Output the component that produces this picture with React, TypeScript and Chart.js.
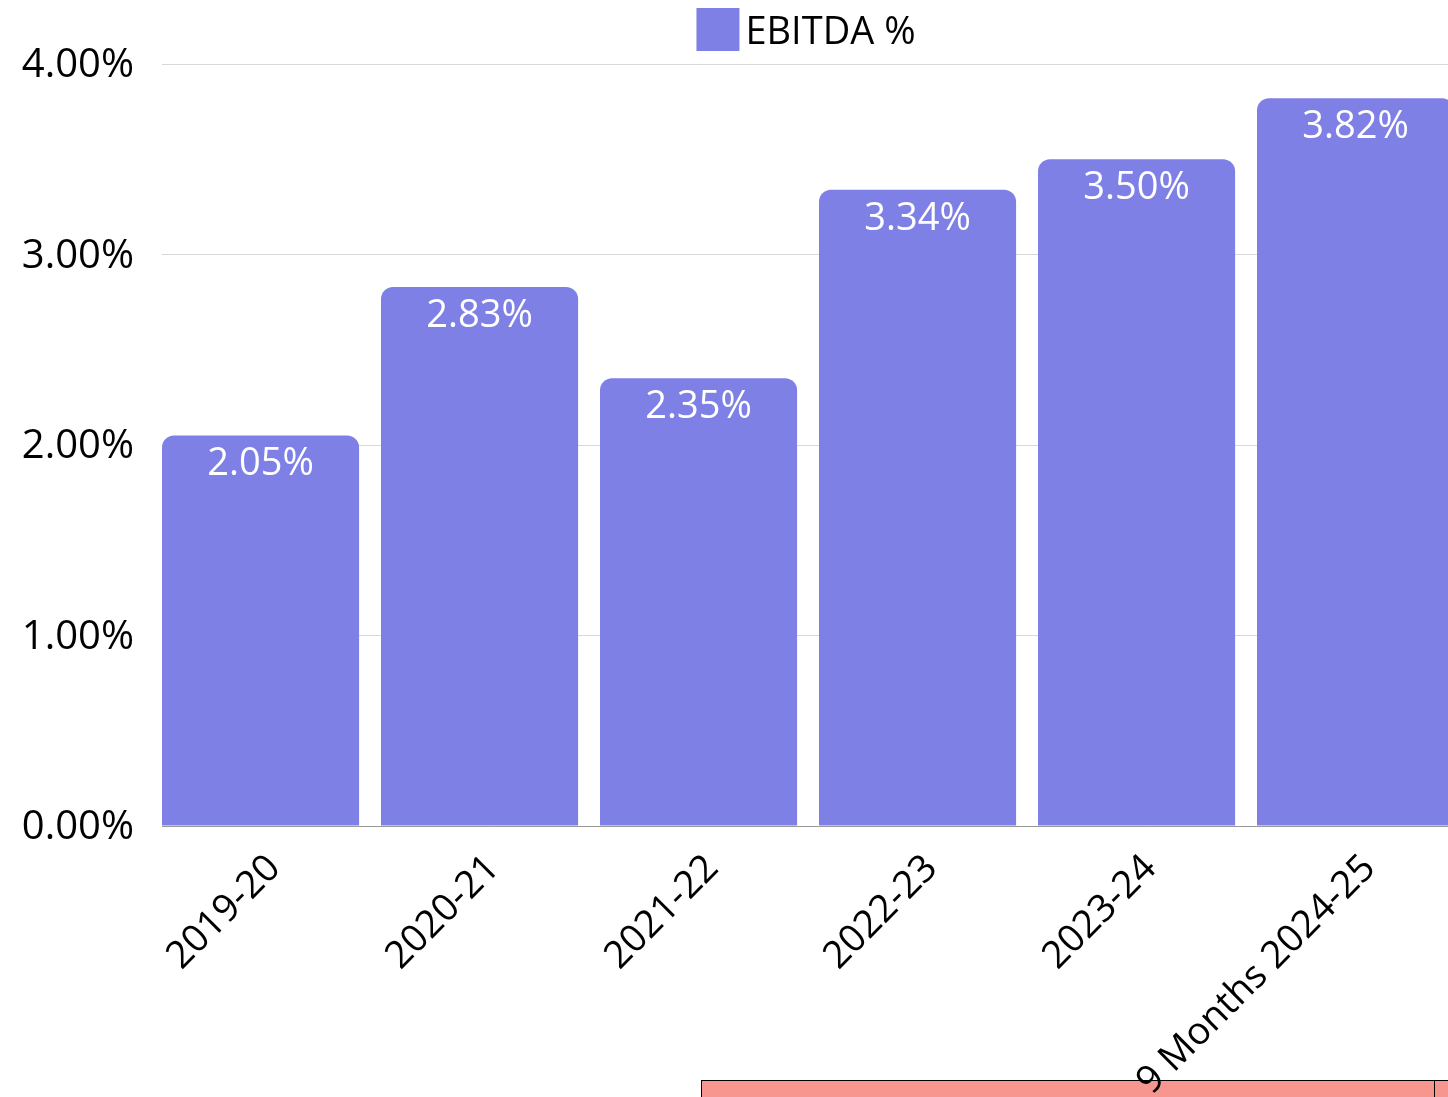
import React, { useEffect, useRef } from "react";
import { Chart, registerables } from "chart.js";

Chart.register(...registerables);

const categories = ["2019-20", "2020-21", "2021-22", "2022-23", "2023-24", "9 Months 2024-25"];
const ebitdaValues = [2.05, 2.83, 2.35, 3.34, 3.5, 3.82];
const yTickValues = [0, 1, 2, 3, 4];
const seriesLabel = "EBITDA %";

const FONT = "'Open Sans', 'Noto Sans', sans-serif";
const BAR_COLOR = "#7f80e6";

const dataLabelPlugin = {
  id: "barValueLabels",
  afterDatasetsDraw(chart: any) {
    const ctx = chart.ctx;
    const meta = chart.getDatasetMeta(0);
    ctx.save();
    ctx.fillStyle = "#ffffff";
    ctx.font = `38px ${FONT}`;
    ctx.textAlign = "center";
    ctx.textBaseline = "middle";
    meta.data.forEach((bar: any, i: number) => {
      ctx.fillText(ebitdaValues[i].toFixed(2) + "%", bar.x, bar.y + 29);
    });
    ctx.restore();
  },
};

const legendPlugin = {
  id: "customLegend",
  afterDraw(chart: any) {
    const ctx = chart.ctx;
    ctx.save();
    ctx.font = `38px ${FONT}`;
    const text = chart.data.datasets[0].label as string;
    const tw = ctx.measureText(text).width;
    const box = 43;
    const gap = 6;
    const total = box + gap + tw;
    const cx = 806;
    const x0 = cx - total / 2;
    ctx.fillStyle = BAR_COLOR;
    ctx.fillRect(x0, 8, box, box);
    ctx.fillStyle = "#000000";
    ctx.textAlign = "left";
    ctx.textBaseline = "middle";
    ctx.fillText(text, x0 + box + gap, 33);
    ctx.restore();
  },
};

export default function App() {
  const canvasRef = useRef<HTMLCanvasElement | null>(null);

  useEffect(() => {
    if (!canvasRef.current) return;
    const chart = new Chart(canvasRef.current, {
      type: "bar",
      data: {
        datasets: [
          {
            label: seriesLabel,
            data: ebitdaValues.map((v, i) => ({ x: i, y: v })),
            backgroundColor: BAR_COLOR,
            borderRadius: 12,
            borderSkipped: "start",
            barPercentage: 0.9,
            categoryPercentage: 1.0,
          },
        ],
      },
      options: {
        animation: false,
        responsive: true,
        maintainAspectRatio: false,
        layout: { padding: { top: 64, left: 0, right: 0, bottom: 0 } },
        plugins: {
          legend: { display: false },
          tooltip: { enabled: false },
        },
        scales: {
          x: {
            type: "linear",
            offset: false,
            min: -0.45,
            max: 5.55,
            grid: { display: false, offset: false },
            border: { display: true, color: "#999999" },
            afterBuildTicks(scale: any) {
              scale.ticks = categories.map((_, i) => ({ value: i }));
            },
            ticks: {
              color: "#000000",
              font: { family: FONT, size: 38 },
              maxRotation: 45,
              minRotation: 45,
              padding: 12,
              labelOffset: 14,
              autoSkip: false,
              callback: (v: any) => categories[Math.round(Number(v))] ?? "",
            },
            afterFit(scale: any) {
              scale.height = 1097 - 826;
            },
          },
          y: {
            min: 0,
            max: 4,
            grid: { color: "#d9d9d9", drawTicks: false },
            border: { display: false },
            afterBuildTicks(scale: any) {
              scale.ticks = yTickValues.map((v) => ({ value: v }));
            },
            ticks: {
              color: "#000000",
              font: { family: FONT, size: 40 },
              padding: 28,
              labelOffset: 2,
              callback: (v: any) => Number(v).toFixed(2) + "%",
            },
            afterFit(scale: any) {
              scale.width = 162;
            },
          },
        },
      },
      plugins: [dataLabelPlugin, legendPlugin],
    });
    return () => chart.destroy();
  }, []);

  return (
    <div
      style={{
        position: "fixed",
        left: 0,
        top: 0,
        width: 1448,
        height: 1097,
        overflow: "hidden",
        background: "#ffffff",
      }}
    >
      <div
        style={{
          position: "absolute",
          left: 701,
          top: 1080,
          width: 735,
          height: 40,
          background: "#f7958f",
          border: "1px solid #000",
          boxSizing: "border-box",
        }}
      />
      <div
        style={{
          position: "absolute",
          left: 1434,
          top: 1080,
          width: 40,
          height: 40,
          background: "#f7958f",
          border: "1px solid #000",
          boxSizing: "border-box",
        }}
      />
      <div style={{ position: "absolute", left: 0, top: 0, width: 1476, height: 1097 }}>
        <canvas ref={canvasRef} />
      </div>
    </div>
  );
}
